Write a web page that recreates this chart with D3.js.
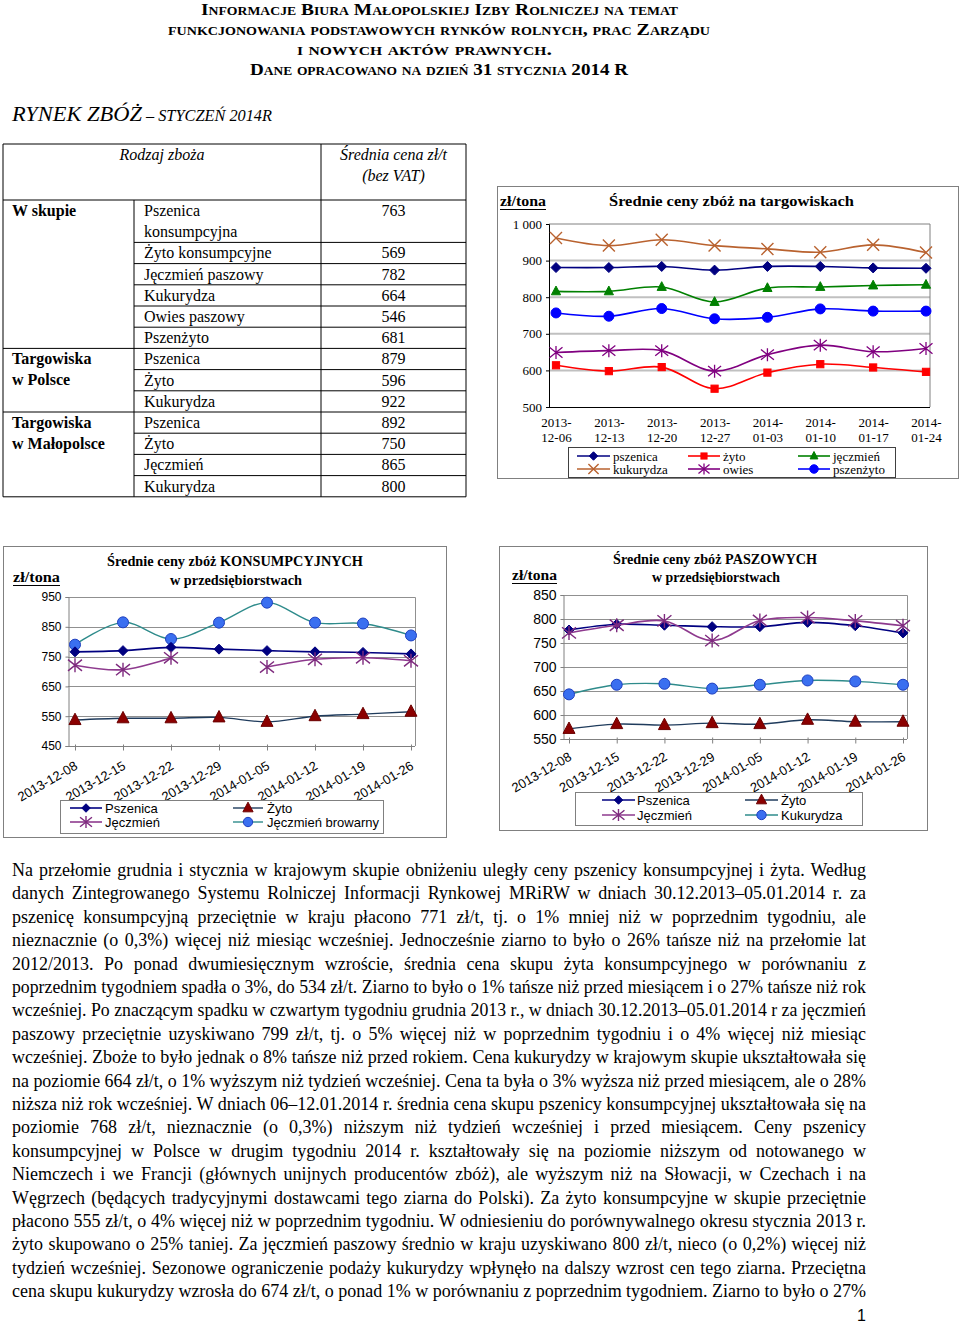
<!DOCTYPE html>
<html><head><meta charset="utf-8">
<script src="https://cdn.jsdelivr.net/npm/d3@7"></script>
<style>body{margin:0;background:#fff} svg{display:block}</style>
</head><body>
<script>
// ---------------- DATA ----------------
const headerLines = ["Informacje Biura Małopolskiej Izby Rolniczej na temat",
  "funkcjonowania podstawowych rynków rolnych, prac Zarządu",
  "i nowych aktów prawnych.",
  "Dane opracowano na dzień 31 stycznia 2014 R"];
const sectionTitleBig = "RYNEK ZBÓŻ";
const sectionTitleSmall = " – STYCZEŃ 2014R";

const tableHeadCrop = "Rodzaj zboża";
const tableHeadPrice = ["Średnia cena zł/t", "(bez VAT)"];
const tableGroupLabels = [["W skupie"], ["Targowiska", "w Polsce"], ["Targowiska", "w Małopolsce"]];
const tableCrops = ["Pszenica\nkonsumpcyjna", "Żyto konsumpcyjne", "Jęczmień paszowy", "Kukurydza", "Owies paszowy", "Pszenżyto",
  "Pszenica", "Żyto", "Kukurydza", "Pszenica", "Żyto", "Jęczmień", "Kukurydza"];
const tablePrices = [763, 569, 782, 664, 546, 681, 879, 596, 922, 892, 750, 865, 800];
const tableGroupOf = [0, 0, 0, 0, 0, 0, 1, 1, 1, 2, 2, 2, 2];

// Chart 1: Średnie ceny zbóż na targowiskach
const marketTitle = "Średnie ceny zbóż na targowiskach";
const marketDates = ["2013-12-06", "2013-12-13", "2013-12-20", "2013-12-27", "2014-01-03", "2014-01-10", "2014-01-17", "2014-01-24"];
const marketPszenica = [881, 881, 884, 874, 884, 884, 880, 879];
const marketZyto = [614, 598, 609, 550, 594, 617, 608, 596];
const marketJeczmien = [816, 816, 828, 787, 825, 828, 832, 834];
const marketKukurydza = [962, 941, 957, 941, 932, 923, 943, 922];
const marketOwies = [649, 654, 654, 598, 643, 669, 651, 660];
const marketPszenzyto = [757, 748, 769, 741, 745, 768, 762, 762];
const marketTicks = [500, 600, 700, 800, 900, 1000];

// Chart 2: Średnie ceny zbóż KONSUMPCYJNYCH
const konsTitle = ["Średnie ceny zbóż KONSUMPCYJNYCH", "w przedsiębiorstwach"];
const konsDates = ["2013-12-08", "2013-12-15", "2013-12-22", "2013-12-29", "2014-01-05", "2014-01-12", "2014-01-19", "2014-01-26"];
const konsPszenica = [766, 770, 781, 775, 770, 766, 764, 759];
const konsZyto = [537, 543, 543, 546, 531, 550, 557, 565];
const konsJeczmien = [721, 706, 746, null, 715, 741, 746, 736];
const konsBrowarny = [790, 865, 809, 864, 931, 864, 861, 821];
const konsTicks = [450, 550, 650, 750, 850, 950];

// Chart 3: Średnie ceny zbóż PASZOWYCH
const paszTitle = ["Średnie ceny zbóż PASZOWYCH", "w przedsiębiorstwach"];
const paszDates = ["2013-12-08", "2013-12-15", "2013-12-22", "2013-12-29", "2014-01-05", "2014-01-12", "2014-01-19", "2014-01-26"];
const paszPszenica = [777, 789, 787, 784, 784, 793, 786, 771];
const paszZyto = [571, 581, 579, 583, 581, 590, 586, 586];
const paszJeczmien = [771, 787, 796, 755, 797, 803, 796, 786];
const paszKukurydza = [643, 663, 665, 655, 663, 672, 670, 663];
const paszTicks = [550, 600, 650, 700, 750, 800, 850];

const unitLabel = "zł/tona";

const paraLines = [
"Na przełomie grudnia i stycznia w krajowym skupie obniżeniu uległy ceny pszenicy konsumpcyjnej i żyta. Według",
"danych Zintegrowanego Systemu Rolniczej Informacji Rynkowej MRiRW w dniach 30.12.2013–05.01.2014 r. za",
"pszenicę konsumpcyjną przeciętnie w kraju płacono 771 zł/t, tj. o 1% mniej niż w poprzednim tygodniu, ale",
"nieznacznie (o 0,3%) więcej niż miesiąc wcześniej. Jednocześnie ziarno to było o 26% tańsze niż na przełomie lat",
"2012/2013. Po ponad dwumiesięcznym wzroście, średnia cena skupu żyta konsumpcyjnego w porównaniu z",
"poprzednim tygodniem spadła o 3%, do 534 zł/t. Ziarno to było o 1% tańsze niż przed miesiącem i o 27% tańsze niż rok",
"wcześniej. Po znaczącym spadku w czwartym tygodniu grudnia 2013 r., w dniach 30.12.2013–05.01.2014 r za jęczmień",
"paszowy przeciętnie uzyskiwano 799 zł/t, tj. o 5% więcej niż w poprzednim tygodniu i o 4% więcej niż miesiąc",
"wcześniej. Zboże to było jednak o 8% tańsze niż przed rokiem. Cena kukurydzy w krajowym skupie ukształtowała się",
"na poziomie 664 zł/t, o 1% wyższym niż tydzień wcześniej. Cena ta była o 3% wyższa niż przed miesiącem, ale o 28%",
"niższa niż rok wcześniej. W dniach 06–12.01.2014 r. średnia cena skupu pszenicy konsumpcyjnej ukształtowała się na",
"poziomie 768 zł/t, nieznacznie (o 0,3%) niższym niż tydzień wcześniej i przed miesiącem. Ceny pszenicy",
"konsumpcyjnej w Polsce w drugim tygodniu 2014 r. kształtowały się na poziomie niższym od notowanego w",
"Niemczech i we Francji (głównych unijnych producentów zbóż), ale wyższym niż na Słowacji, w Czechach i na",
"Węgrzech (będących tradycyjnymi dostawcami tego ziarna do Polski). Za żyto konsumpcyjne w skupie przeciętnie",
"płacono 555 zł/t, o 4% więcej niż w poprzednim tygodniu. W odniesieniu do porównywalnego okresu stycznia 2013 r.",
"żyto skupowano o 25% taniej. Za jęczmień paszowy średnio w kraju uzyskiwano 800 zł/t, nieco (o 0,2%) więcej niż",
"tydzień wcześniej. Sezonowe ograniczenie podaży kukurydzy wpłynęło na dalszy wzrost cen tego ziarna. Przeciętna",
"cena skupu kukurydzy wzrosła do 674 zł/t, o ponad 1% w porównaniu z poprzednim tygodniem. Ziarno to było o 27%"];
const pageNumber = "1";

// ---------------- DRAWING ----------------
const SERIF = "'Liberation Serif','Times New Roman',serif";
const SANS = "'Liberation Sans',Arial,sans-serif";
const svg = d3.select("body").append("svg").attr("width", 960).attr("height", 1324);
svg.append("rect").attr("width", 960).attr("height", 1324).attr("fill", "#fff");

function txt(g, s, x, y, o = {}) {
  const t = g.append("text").attr("x", x).attr("y", y).text(s)
    .attr("font-family", o.family || SERIF).attr("font-size", o.size || 16)
    .attr("fill", o.fill || "#000");
  if (o.anchor) t.attr("text-anchor", o.anchor);
  if (o.weight) t.attr("font-weight", o.weight);
  if (o.style) t.attr("font-style", o.style);
  if (o.variant) t.style("font-variant", o.variant);
  if (o.len) t.attr("textLength", o.len).attr("lengthAdjust", "spacingAndGlyphs");
  return t;
}

// Header
const hdr = [[439.5, 15, 477], [439, 35, 542], [424.5, 55, 255], [439, 75, 378]];
headerLines.forEach((s, i) => txt(svg, s, hdr[i][0], hdr[i][1], {anchor: "middle", weight: "bold", size: 17, variant: "small-caps", len: hdr[i][2]}));
{
  const t = svg.append("text").attr("x", 12).attr("y", 121).attr("font-family", SERIF).attr("font-style", "italic")
    .attr("textLength", 260).attr("lengthAdjust", "spacingAndGlyphs");
  t.append("tspan").attr("font-size", 22).text(sectionTitleBig);
  t.append("tspan").attr("font-size", 16).text(sectionTitleSmall);
}

// Table
{
  const g = svg.append("g");
  const L = 3, C1 = 134, C2 = 321, R = 466, T = 144, HB = 200, RH = 21.2;
  const line = (x1, y1, x2, y2) => g.append("line").attr("x1", x1).attr("y1", y1).attr("x2", x2).attr("y2", y2).attr("stroke", "#000").attr("stroke-width", 1);
  txt(g, tableHeadCrop, (L + C2) / 2, 160, {anchor: "middle", style: "italic"});
  txt(g, tableHeadPrice[0], (C2 + R) / 2, 160, {anchor: "middle", style: "italic"});
  txt(g, tableHeadPrice[1], (C2 + R) / 2, 181, {anchor: "middle", style: "italic"});
  line(L, T, R, T); line(L, HB, R, HB);
  let y = HB;
  const groupStart = {};
  tableCrops.forEach((c, i) => {
    const parts = c.split("\n");
    const h = parts.length * RH;
    const gi = tableGroupOf[i];
    if (groupStart[gi] === undefined) {
      groupStart[gi] = y;
      tableGroupLabels[gi].forEach((s, k) => txt(g, s, 12, y + 16 + k * 21, {weight: "bold"}));
    }
    parts.forEach((p, k) => txt(g, p, 144, y + 16 + k * 21));
    txt(g, String(tablePrices[i]), (C2 + R) / 2, y + 16, {anchor: "middle"});
    y += h;
    const last = i === tableCrops.length - 1 || tableGroupOf[i + 1] !== gi;
    line(last ? L : C1, y, R, y);
  });
  line(L, T, L, y); line(R, T, R, y); line(C2, T, C2, y); line(C1, HB, C1, y);
}

// Markers
function marker(g, type, x, y, s, fill, stroke, sw) {
  stroke = stroke || fill; sw = sw || 1;
  let p;
  if (type === "diamond") p = g.append("path").attr("d", `M${x},${y - s}L${x + s},${y}L${x},${y + s}L${x - s},${y}Z`).attr("fill", fill).attr("stroke", stroke);
  else if (type === "square") p = g.append("rect").attr("x", x - s).attr("y", y - s).attr("width", 2 * s).attr("height", 2 * s).attr("fill", fill).attr("stroke", stroke);
  else if (type === "triangle") p = g.append("path").attr("d", `M${x},${y - s * 1.15}L${x + s},${y + s * 0.75}L${x - s},${y + s * 0.75}Z`).attr("fill", fill).attr("stroke", stroke);
  else if (type === "circle") p = g.append("circle").attr("cx", x).attr("cy", y).attr("r", s).attr("fill", fill).attr("stroke", stroke);
  else if (type === "x") p = g.append("path").attr("d", `M${x - s},${y - s}L${x + s},${y + s}M${x - s},${y + s}L${x + s},${y - s}`).attr("fill", "none").attr("stroke", stroke).attr("stroke-width", sw);
  else if (type === "star") p = g.append("path").attr("d", `M${x - s},${y - s * 0.8}L${x + s},${y + s * 0.8}M${x - s},${y + s * 0.8}L${x + s},${y - s * 0.8}M${x},${y - s}L${x},${y + s}`).attr("fill", "none").attr("stroke", stroke).attr("stroke-width", sw);
  return p;
}

function drawSeries(g, dates, values, x, y, st) {
  const pts = dates.map((d, i) => ({d, v: values[i]}));
  const ln = d3.line().defined(p => p.v != null).x(p => x(p.d)).y(p => y(p.v)).curve(d3.curveCatmullRom.alpha(0.5));
  g.append("path").attr("d", ln(pts)).attr("fill", "none").attr("stroke", st.line).attr("stroke-width", st.lw || 1.6);
  pts.filter(p => p.v != null).forEach(p => marker(g, st.marker, x(p.d), y(p.v), st.size, st.fill, st.stroke, st.sw));
}

function legendItem(g, x1, x2, tx, ty, label, st, o) {
  g.append("line").attr("x1", x1).attr("x2", x2).attr("y1", ty).attr("y2", ty).attr("stroke", st.line).attr("stroke-width", st.lw || 1.6);
  marker(g, st.marker, (x1 + x2) / 2, ty, st.size * 0.85, st.fill, st.stroke, st.sw);
  txt(g, label, tx, ty + 4.5, o);
}

function unit(g, x, y, w) {
  txt(g, unitLabel, x, y, {weight: "bold", size: 15, len: w});
  g.append("line").attr("x1", x).attr("x2", x + w).attr("y1", y + 3.5).attr("y2", y + 3.5).attr("stroke", "#000").attr("stroke-width", 1.2);
}

// Chart 1
{
  const g = svg.append("g");
  g.append("rect").attr("x", 497.5).attr("y", 186.5).attr("width", 461).attr("height", 292).attr("fill", "#fff").attr("stroke", "#808080");
  const x = d3.scalePoint().domain(marketDates).range([556, 926]);
  const y = d3.scaleLinear().domain([500, 1000]).range([407, 224]);
  const P = {x0: 549, x1: 930, y0: 224, y1: 407};
  marketTicks.filter(t => t > 500 && t < 1000).forEach(t => g.append("line").attr("x1", P.x0).attr("x2", P.x1).attr("y1", y(t)).attr("y2", y(t)).attr("stroke", "#C0C0C0").attr("stroke-width", 2));
  g.append("path").attr("d", `M${P.x0},${P.y0}H${P.x1}V${P.y1}`).attr("fill", "none").attr("stroke", "#808080");
  const fmt = d3.formatLocale({thousands: " ", grouping: [3], decimal: ",", currency: ["", ""]}).format(",");
  const ya = g.append("g").attr("transform", `translate(${P.x0},0)`).call(d3.axisLeft(y).tickValues(marketTicks).tickFormat(fmt).tickSize(3).tickPadding(4));
  ya.select(".domain").attr("stroke", "#000");
  ya.selectAll("text").attr("font-family", SERIF).attr("font-size", 13).attr("fill", "#000");
  const xa = g.append("g").attr("transform", `translate(0,${P.y1})`).call(d3.axisBottom(x).tickSize(0).tickPadding(0));
  xa.select(".domain").attr("stroke", "#000").attr("d", `M${P.x0},0.5H${P.x1}`);
  xa.selectAll(".tick text").each(function (d) {
    const t = d3.select(this).text(null).attr("font-family", SERIF).attr("font-size", 13).attr("fill", "#000").attr("y", 0).attr("dy", 0);
    t.append("tspan").attr("x", 0).attr("y", 20).text(d.slice(0, 5));
    t.append("tspan").attr("x", 0).attr("y", 35).text(d.slice(5));
  });
  const S = {
    psz: {line: "#000080", marker: "diamond", size: 5, fill: "#000080"},
    zyto: {line: "#FF0000", marker: "square", size: 3.6, fill: "#FF0000"},
    jecz: {line: "#008000", marker: "triangle", size: 4.6, fill: "#008000"},
    kuk: {line: "#B9622F", marker: "x", size: 6, fill: "none", stroke: "#B9622F", sw: 1.4},
    owies: {line: "#800080", marker: "star", size: 6.5, fill: "none", stroke: "#800080", sw: 1.3},
    pszz: {line: "#0000FF", marker: "circle", size: 5, fill: "#0000FF"}
  };
  drawSeries(g, marketDates, marketKukurydza, x, y, S.kuk);
  drawSeries(g, marketDates, marketPszenica, x, y, S.psz);
  drawSeries(g, marketDates, marketJeczmien, x, y, S.jecz);
  drawSeries(g, marketDates, marketPszenzyto, x, y, S.pszz);
  drawSeries(g, marketDates, marketOwies, x, y, S.owies);
  drawSeries(g, marketDates, marketZyto, x, y, S.zyto);
  txt(g, marketTitle, 731.5, 206, {anchor: "middle", weight: "bold", size: 14.5, len: 245});
  unit(g, 500, 206, 46);
  g.append("rect").attr("x", 568.5).attr("y", 447.5).attr("width", 327).attr("height", 30).attr("fill", "#fff").attr("stroke", "#404040");
  const lo = {size: 13};
  legendItem(g, 577, 610, 613, 456, "pszenica", S.psz, lo);
  legendItem(g, 688, 720, 723, 456, "żyto", S.zyto, lo);
  legendItem(g, 798, 830, 833, 456, "jęczmień", S.jecz, lo);
  legendItem(g, 577, 610, 613, 469, "kukurydza", S.kuk, lo);
  legendItem(g, 688, 720, 723, 469, "owies", S.owies, lo);
  legendItem(g, 798, 830, 833, 469, "pszenżyto", S.pszz, lo);
}

// Bottom charts style
const BS = {
  psz: {line: "#000080", marker: "diamond", size: 5, fill: "#000080", lw: 1.6},
  zyto: {line: "#1F3B5C", marker: "triangle", size: 6, fill: "#8B0000", stroke: "#6B0000", lw: 1.4},
  jecz: {line: "#8E3A8E", marker: "star", size: 7, fill: "none", stroke: "#7E2A7E", sw: 1.4, lw: 1.6},
  circ: {line: "#2E8B8B", marker: "circle", size: 5.5, fill: "#3A6FF0", stroke: "#1E3FBF", lw: 1.4}
};

function bottomChart(o) {
  const g = svg.append("g");
  g.append("rect").attr("x", o.frame[0] + 0.5).attr("y", o.frame[1] + 0.5).attr("width", o.frame[2] - o.frame[0]).attr("height", o.frame[3] - o.frame[1]).attr("fill", "#fff").attr("stroke", "#808080");
  const P = o.plot;
  const x = d3.scalePoint().domain(o.dates).range(o.xr);
  const y = d3.scaleLinear().domain(o.yd).range([P.y1, P.y0]);
  o.ticks.filter(t => t > o.yd[0] && t < o.yd[1]).forEach(t => g.append("line").attr("x1", P.x0).attr("x2", P.x1).attr("y1", Math.round(y(t)) + 0.5).attr("y2", Math.round(y(t)) + 0.5).attr("stroke", "#909090"));
  g.append("path").attr("d", `M${P.x0},${P.y0 + 0.5}H${P.x1 + 0.5}V${P.y1}`).attr("fill", "none").attr("stroke", "#909090");
  const ya = g.append("g").attr("transform", `translate(${P.x0 + 0.5},0)`).call(d3.axisLeft(y).tickValues(o.ticks).tickSize(3).tickPadding(4));
  ya.select(".domain").attr("stroke", "#808080");
  ya.selectAll("line").attr("stroke", "#808080");
  ya.selectAll("text").attr("font-family", SANS).attr("font-size", o.ySize).attr("fill", "#000");
  const xa = g.append("g").attr("transform", `translate(0,${P.y1 + 0.5})`).call(d3.axisBottom(x).tickSize(4).tickPadding(0));
  xa.select(".domain").attr("stroke", "#808080").attr("d", `M${P.x0},0H${P.x1}`);
  xa.selectAll("line").attr("stroke", "#808080").attr("y1", -2);
  xa.selectAll(".tick text").attr("font-family", SANS).attr("font-size", 13).attr("fill", "#000")
    .attr("text-anchor", "end").attr("dy", 0).attr("y", 0)
    .attr("transform", `translate(3,${o.labelDy}) rotate(-30)`);
  o.series.forEach(s => drawSeries(g, o.dates, s.values, x, y, s.st));
  txt(g, o.title[0], o.t1[0], o.t1[1], {anchor: "middle", weight: "bold", size: 14, len: o.t1[2]});
  txt(g, o.title[1], o.t2[0], o.t2[1], {anchor: "middle", weight: "bold", size: 14, len: o.t2[2]});
  unit(g, o.unit[0], o.unit[1], o.unit[2]);
  const lb = o.legend;
  g.append("rect").attr("x", lb.box[0] + 0.5).attr("y", lb.box[1] + 0.5).attr("width", lb.box[2] - lb.box[0]).attr("height", lb.box[3] - lb.box[1]).attr("fill", "#fff").attr("stroke", "#808080");
  lb.items.forEach(it => legendItem(g, it[0], it[1], it[2], it[3], it[4], it[5], {family: SANS, size: 13}));
}

bottomChart({
  frame: [3, 546, 446, 837], plot: {x0: 68, x1: 415, y0: 597, y1: 746}, xr: [75, 411],
  dates: konsDates, yd: [450, 950], ticks: konsTicks, ySize: 12, labelDy: 22,
  series: [{values: konsBrowarny, st: BS.circ}, {values: konsPszenica, st: BS.psz}, {values: konsJeczmien, st: BS.jecz}, {values: konsZyto, st: BS.zyto}],
  title: konsTitle, t1: [235, 566, 256], t2: [236, 585, 132], unit: [13, 582, 47],
  legend: {box: [60, 800, 383, 833], items: [
    [70, 102, 105, 808, "Pszenica", BS.psz], [233, 263, 267, 808, "Żyto", BS.zyto],
    [70, 102, 105, 822, "Jęczmień", BS.jecz], [233, 263, 267, 822, "Jęczmień browarny", BS.circ]]}
});

bottomChart({
  frame: [499, 546, 927, 830], plot: {x0: 563, x1: 907, y0: 595, y1: 739}, xr: [569, 903],
  dates: paszDates, yd: [550, 850], ticks: paszTicks, ySize: 14, labelDy: 20,
  series: [{values: paszKukurydza, st: BS.circ}, {values: paszPszenica, st: BS.psz}, {values: paszJeczmien, st: BS.jecz}, {values: paszZyto, st: BS.zyto}],
  title: paszTitle, t1: [715, 564, 204], t2: [716, 582, 128], unit: [512, 580, 45],
  legend: {box: [575, 792, 862, 825], items: [
    [602, 635, 637, 800, "Pszenica", BS.psz], [745, 778, 781, 800, "Żyto", BS.zyto],
    [602, 635, 637, 815, "Jęczmień", BS.jecz], [745, 778, 781, 815, "Kukurydza", BS.circ]]}
});

// Paragraph (justified)
{
  const g = svg.append("g");
  const X0 = 12, X1 = 866, B0 = 876, LH = 23.4;
  const W = X1 - X0;
  paraLines.forEach((s, i) => {
    const t = txt(g, s, X0, B0 + i * LH, {size: 18});
    const w = t.node().getComputedTextLength();
    const n = (s.match(/ /g) || []).length;
    if (w < W && n > 0) t.attr("word-spacing", (W - w) / n);
    else if (w > W) t.attr("textLength", W).attr("lengthAdjust", "spacingAndGlyphs");
  });
  txt(g, pageNumber, 866, 1321, {family: SANS, size: 16, anchor: "end"});
}
</script>
</body></html>
